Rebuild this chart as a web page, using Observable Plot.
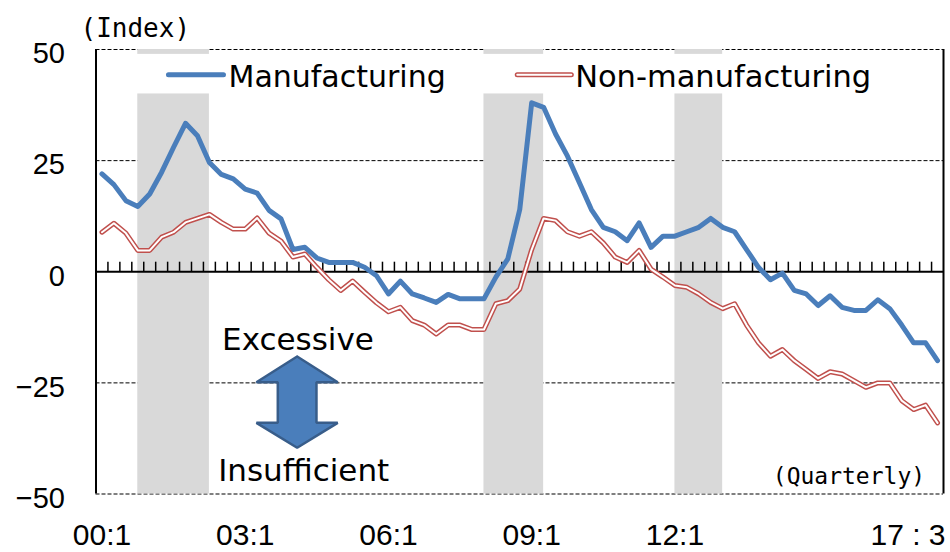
<!DOCTYPE html>
<html><head><meta charset="utf-8">
<script src="https://cdn.jsdelivr.net/npm/d3@7"></script>
<script src="https://cdn.jsdelivr.net/npm/@observablehq/plot@0.6"></script>
<style>html,body{margin:0;padding:0;background:#fff;} #chart{width:950px;height:552px;overflow:hidden;}</style>
</head><body><div id="chart"></div>
<script>
// ---- data ----
const quarters = [];
for (let y = 2000; y <= 2017; y++) for (let q = 1; q <= 4; q++) {
  if (y === 2017 && q > 3) break;
  quarters.push(String(y % 100).padStart(2, "0") + ":" + q);
}
const manufacturing = [
  22.0, 19.6, 16.0, 14.7, 17.5, 22.4, 28.0, 33.4, 30.6, 24.6,
  21.9, 20.9, 18.6, 17.7, 13.8, 11.9, 5.0, 5.5, 3.1, 2.1,
  2.1, 2.1, 1.0, -0.9, -5.0, -2.1, -5.0, -5.9, -6.9, -5.1,
  -6.1, -6.1, -6.1, -1.2, 2.9, 14.0, 38.0, 37.0, 31.0, 26.0,
  20.0, 14.0, 10.0, 9.0, 7.0, 11.0, 5.5, 8.0, 8.0, 9.0,
  10.0, 12.0, 10.0, 9.0, 5.0, 1.0, -1.8, -0.3, -4.2, -5.0,
  -7.6, -5.4, -8.0, -8.7, -8.7, -6.3, -8.3, -12.0, -16.0, -16.0,
  -20.0
];
const nonManufacturing = [
  8.9, 10.9, 8.7, 4.8, 4.8, 7.8, 8.9, 11.1, 12.0, 12.9,
  11.1, 9.6, 9.6, 12.1, 8.7, 6.9, 3.3, 4.0, 1.0, -1.8,
  -4.2, -2.1, -4.6, -7.0, -9.0, -8.0, -11.0, -12.0, -14.0, -12.0,
  -12.0, -13.0, -13.0, -7.2, -6.5, -3.9, 5.0, 12.0, 11.5, 9.0,
  8.0, 9.0, 6.5, 3.3, 2.1, 4.8, 0.6, -1.2, -3.1, -3.5,
  -5.0, -6.9, -8.3, -7.2, -12.0, -16.0, -19.0, -17.5, -20.0, -22.0,
  -24.0, -22.5, -23.0, -24.5, -26.0, -25.0, -25.0, -29.0, -31.0, -30.0,
  -34.0
];
const seriesNames = ["Manufacturing", "Non-manufacturing"];
const tickQuarters = ["00:1", "03:1", "06:1", "09:1", "12:1"];
const lastTickLabel = "17 : 3";
const yTicks = [-50, -25, 0, 25, 50];
const recessions = [
  {from: "00:4", to: "02:2"},
  {from: "08:1", to: "09:2"},
  {from: "12:1", to: "13:1"}
];

// ---- annotations (data units) ----
const arrowShape = [
  [16.35, -19.07], [19.75, -24.85], [17.97, -24.85], [17.97, -33.99], [19.75, -33.99],
  [16.35, -39.6], [12.94, -33.99], [14.73, -33.99], [14.73, -24.85], [12.94, -24.85], [16.35, -19.07]
].map(([x, y]) => ({x, y}));

const idx = q => quarters.indexOf(q);
const rows = quarters.map((q, i) => ({i, q, m: manufacturing[i], n: nonManufacturing[i]}));
const last = quarters.length - 1;

const BLUE = "#4A7EBB", RED = "#C0504D";
const LAB = "DejaVu Sans, Noto Sans CJK JP, sans-serif";
const MONO = "DejaVu Sans Mono, monospace";
const NUM = "Liberation Sans, Arial, sans-serif";

const chart = Plot.plot({
  width: 950, height: 552,
  marginLeft: 95.5, marginRight: 7, marginTop: 49, marginBottom: 58.5,
  x: {domain: [-0.5, quarters.length - 0.5], axis: null},
  y: {domain: [-50, 50], axis: null},
  style: {background: "white", overflow: "visible", fontFamily: NUM},
  marks: [
    Plot.ruleY(yTicks.filter(v => v !== 0), {stroke: "black", strokeWidth: 1, strokeDasharray: "4,2"}),
    Plot.rect(recessions, {x1: d => idx(d.from), x2: d => idx(d.to), y1: -50, y2: 50, fill: "#D9D9D9"}),
    Plot.rect([0], {x1: 1, x2: 69, y1: 40, y2: 48.9, fill: "white"}),
    Plot.ruleY([0], {stroke: "black", strokeWidth: 2}),
    Plot.ruleX(d3.range(0.5, last + 0.5, 1), {y1: 0, y2: 2.15, stroke: "black", strokeWidth: 1.5}),
    Plot.ruleX([-0.5], {stroke: "black", strokeWidth: 2}),
    Plot.ruleX([last + 0.5], {stroke: "black", strokeWidth: 2}),
    Plot.line(rows, {x: "i", y: "m", stroke: BLUE, strokeWidth: 5, strokeLinejoin: "round"}),
    Plot.line(rows, {x: "i", y: "n", stroke: RED, strokeWidth: 5, strokeLinejoin: "round"}),
    Plot.line(rows, {x: "i", y: "n", stroke: "white", strokeWidth: 2, strokeLinejoin: "round"}),
    // legend
    Plot.line([{x: 5.57, y: 44.3}, {x: 10.18, y: 44.3}], {x: "x", y: "y", stroke: BLUE, strokeWidth: 5, strokeLinecap: "round"}),
    Plot.text([seriesNames[0]], {x: 10.6, y: 41.5, text: d => d, textAnchor: "start", lineAnchor: "bottom", fontSize: 30, fontFamily: LAB, fill: "black"}),
    Plot.line([{x: 34.79, y: 44.3}, {x: 39.32, y: 44.3}], {x: "x", y: "y", stroke: RED, strokeWidth: 5, strokeLinecap: "round"}),
    Plot.line([{x: 34.79, y: 44.3}, {x: 39.32, y: 44.3}], {x: "x", y: "y", stroke: "white", strokeWidth: 2, strokeLinecap: "round"}),
    Plot.text([seriesNames[1]], {x: 39.64, y: 41.5, text: d => d, textAnchor: "start", lineAnchor: "bottom", fontSize: 30.5, fontFamily: LAB, fill: "black"}),
    // arrow + labels
    Plot.line(arrowShape, {x: "x", y: "y", fill: BLUE, stroke: "#385D8A", strokeWidth: 2.5, strokeLinejoin: "miter"}),
    Plot.text(["Excessive"], {x: 16.42, y: -17.7, text: d => d, lineAnchor: "bottom", fontSize: 31, fontFamily: LAB, fill: "black"}),
    Plot.text(["Insufficient"], {x: 16.9, y: -47.0, text: d => d, lineAnchor: "bottom", fontSize: 31, fontFamily: LAB, fill: "black"}),
    Plot.text(["(Quarterly)"], {x: 68.96, y: -47.65, text: d => d, textAnchor: "end", lineAnchor: "bottom", fontSize: 23, fontFamily: MONO, fill: "black"}),
    Plot.text(["(Index)"], {x: -1.8, y: 52.76, text: d => d, textAnchor: "start", lineAnchor: "bottom", fontSize: 26, fontFamily: MONO, fill: "black"}),
    // axes
    Plot.axisY({ticks: yTicks, tickSize: 0, tickPadding: 31, fontSize: 29, dy: 4.5, fill: "black"}),
    Plot.axisX({ticks: tickQuarters.map(idx), tickFormat: i => quarters[i], tickSize: 0, tickPadding: 30, fontSize: 30, fill: "black"}),
    Plot.text([last], {x: d => d, y: -50, text: () => lastTickLabel, textAnchor: "end", lineAnchor: "top", dx: 8, dy: 30, fontSize: 30, fill: "black"})
  ]
});
document.getElementById("chart").appendChild(chart);
</script>
</body></html>
